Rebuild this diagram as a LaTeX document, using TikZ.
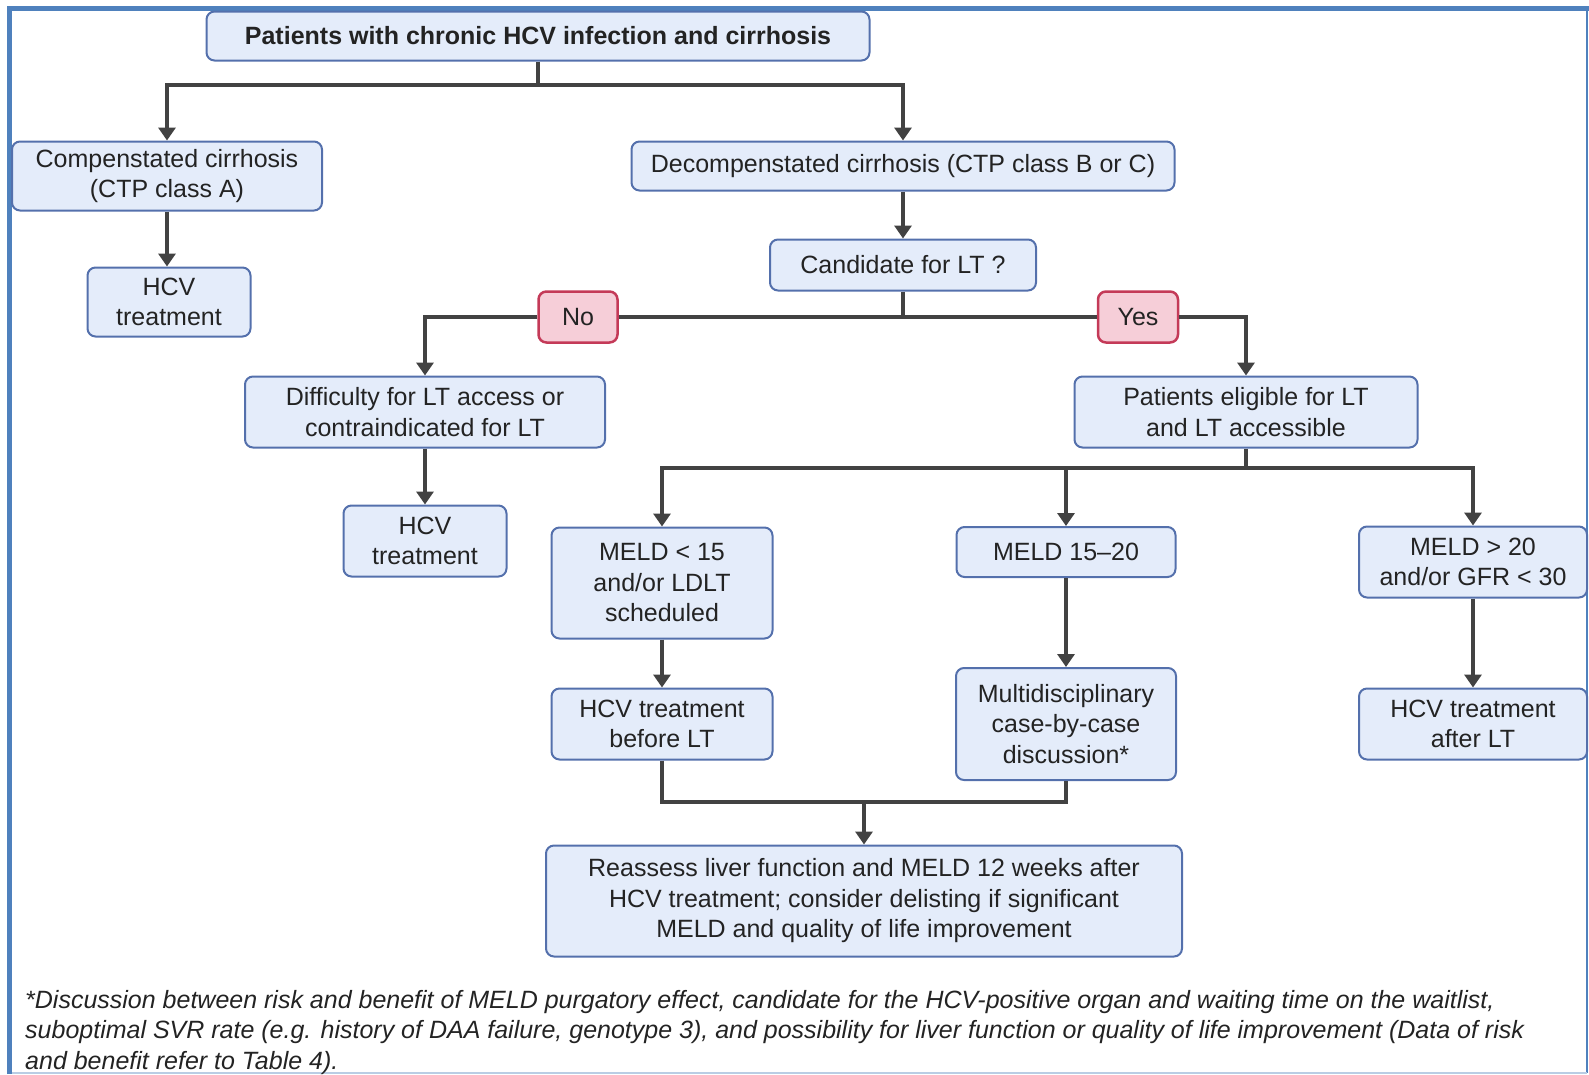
\documentclass[tikz,border=0pt]{standalone}
\usepackage{fontspec}
\setmainfont{Liberation Sans}
\usetikzlibrary{arrows.meta}
\definecolor{boxfill}{RGB}{228,236,250}
\definecolor{boxdraw}{RGB}{84,112,172}
\definecolor{pinkfill}{RGB}{246,206,216}
\definecolor{pinkdraw}{RGB}{196,58,88}
\definecolor{linegray}{RGB}{66,66,66}
\definecolor{frameblue}{RGB}{79,129,189}
\definecolor{txt}{RGB}{35,35,35}
\tikzset{
  box/.style={draw=boxdraw, fill=boxfill, rounded corners=8pt, line width=2pt,
    align=center, inner sep=0pt, text=txt, font=\fontsize{25}{30.5}\selectfont},
  ansbox/.style={draw=pinkdraw, fill=pinkfill, rounded corners=8pt, line width=2.5pt,
    align=center, inner sep=0pt, text=txt, font=\fontsize{25}{30.5}\selectfont},
  ln/.style={draw=linegray, line width=3.5pt},
  arr/.style={ln, -{Triangle[width=17pt,length=13pt]}},
}
\begin{document}
\begin{tikzpicture}[x=1pt,y=-1pt]
\useasboundingbox (0,0) rectangle (1589,1074);
% frame
\draw[frameblue, line width=1.5pt] (1587,8) -- (1587,1073);
\draw[frameblue!40, line width=1.5pt] (9,1073) -- (1587,1073);
\draw[frameblue, line width=5pt] (9,1074) -- (9,8) -- (1589,8);

% nodes
\node[box, minimum width=663pt, minimum height=49pt, font=\fontsize{25}{30.5}\selectfont\bfseries] (top) at (538,36) {Patients with chronic HCV infection and cirrhosis};
\node[box, minimum width=310pt, minimum height=69pt] (comp) at (167,176) {Compenstated cirrhosis\\(CTP class A)};
\node[box, minimum width=163pt, minimum height=69pt] (hcv1) at (169,302) {HCV\\treatment};
\node[box, minimum width=543pt, minimum height=49pt] (decomp) at (903,166) {Decompenstated cirrhosis (CTP class B or C)};
\node[box, minimum width=266pt, minimum height=51pt] (cand) at (903,265) {Candidate for LT ?};
\node[ansbox, minimum width=79pt, minimum height=51pt] (no) at (578,317) {No};
\node[ansbox, minimum width=80pt, minimum height=51pt] (yes) at (1138,317) {Yes};
\node[box, minimum width=360pt, minimum height=71pt] (diff) at (425,412) {Difficulty for LT access or\\contraindicated for LT};
\node[box, minimum width=163pt, minimum height=71pt] (hcv2) at (425,541) {HCV\\treatment};
\node[box, minimum width=343pt, minimum height=71pt] (elig) at (1246,412) {Patients eligible for LT\\and LT accessible};
\node[box, minimum width=221pt, minimum height=111pt] (meld1) at (662,583) {MELD {<} 15\\and/or LDLT\\scheduled};
\node[box, minimum width=219pt, minimum height=50pt] (meld2) at (1066,552) {MELD 15--20};
\node[box, minimum width=228pt, minimum height=71pt] (meld3) at (1473,562) {MELD {>} 20\\and/or GFR {<} 30};
\node[box, minimum width=221pt, minimum height=71pt] (before) at (662,724) {HCV treatment\\before LT};
\node[box, minimum width=220pt, minimum height=112pt] (multi) at (1066,724) {Multidisciplinary\\case-by-case\\discussion*};
\node[box, minimum width=228pt, minimum height=71pt] (after) at (1473,724) {HCV treatment\\after LT};
\node[box, minimum width=636pt, minimum height=111pt] (reassess) at (864,901) {Reassess liver function and MELD 12 weeks after\\HCV treatment; consider delisting if significant\\MELD and quality of life improvement};

\node[anchor=north west, align=left, inner sep=0pt, text=txt,
  font=\fontsize{25}{30.5}\selectfont\itshape] (note) at (25,990)
  {*Discussion between risk and benefit of MELD purgatory effect, candidate for the HCV-positive organ and waiting time on the waitlist,\\
   suboptimal SVR rate (e.g. history of DAA failure, genotype 3), and possibility for liver function or quality of life improvement (Data of risk\\
   and benefit refer to Table 4).};

% connectors
\coordinate (j1) at (538,85);
\draw[ln] (top.south) -- (j1);
\draw[arr] (j1) -| (comp.north);
\draw[arr] (j1) -| (decomp.north);
\draw[arr] (comp.south) -- (comp.south |- hcv1.north);
\draw[arr] (decomp) -- (cand);
\draw[ln] (cand.south) -- (cand.south |- no.east);
\draw[ln] (no.east) -- (yes.west);
\draw[arr] (no.west) -| (diff.north);
\draw[arr] (yes.east) -| (elig.north);
\draw[arr] (diff) -- (hcv2);
\coordinate (j3) at (1246,468);
\draw[ln] (elig.south) -- (j3);
\draw[arr] (j3) -| (meld1.north);
\draw[arr] (j3) -| (meld3.north);
\draw[arr] (meld2.north |- j3) -- (meld2.north);
\draw[arr] (meld1) -- (before);
\draw[arr] (meld2) -- (multi);
\draw[arr] (meld3) -- (after);
\coordinate (j4) at (864,802);
\draw[ln] (before.south) |- (j4) -| (multi.south);
\draw[arr] (j4) -- (reassess.north);
\end{tikzpicture}
\end{document}
